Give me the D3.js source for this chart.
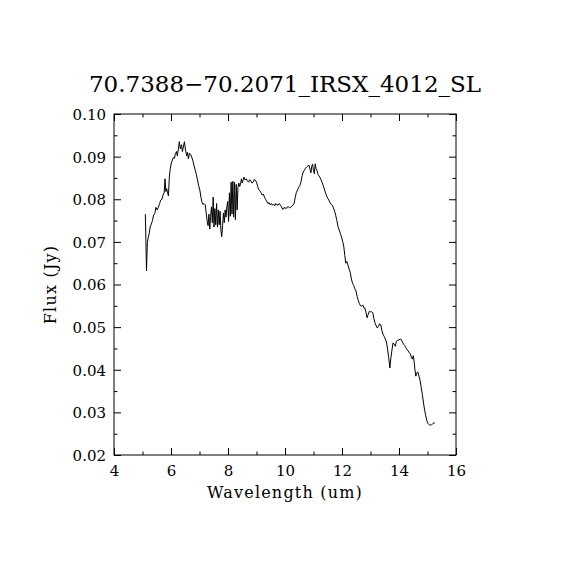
<!DOCTYPE html>
<html>
<head>
<meta charset="utf-8">
<script src="https://cdn.jsdelivr.net/npm/d3@7"></script>
<style>
  html, body { margin: 0; padding: 0; background: #fff; }
  svg { display: block; }
</style>
</head>
<body>
<svg id="chart" width="570" height="570"></svg>
<script>
const title = "70.7388\u221270.2071_IRSX_4012_SL";
const xLabel = "Wavelength (um)";
const yLabel = "Flux (Jy)";

const xMajorTicks = [4, 6, 8, 10, 12, 14, 16];
const xMinorTicks = [5, 7, 9, 11, 13, 15];
const yMajorTicks = [0.02, 0.03, 0.04, 0.05, 0.06, 0.07, 0.08, 0.09, 0.10];
const yMinorTicks = [0.025, 0.035, 0.045, 0.055, 0.065, 0.075, 0.085, 0.095];

// spectrum
const wavelength = [
  5.10, 5.12, 5.14, 5.17, 5.20, 5.23, 5.27, 5.31, 5.35, 5.39, 5.43, 5.47, 5.51, 5.55, 5.60, 5.64, 5.68, 5.72, 5.76, 5.79,
  5.82, 5.85, 5.88, 5.91, 5.94, 5.97, 6.01, 6.05, 6.08, 6.12, 6.15, 6.19, 6.22, 6.26, 6.29, 6.33, 6.37, 6.40, 6.44, 6.47,
  6.51, 6.55, 6.58, 6.61, 6.65, 6.69, 6.73, 6.77, 6.81, 6.85, 6.89, 6.93, 6.97, 7.01, 7.05, 7.09, 7.12, 7.16, 7.20, 7.24,
  7.27, 7.30, 7.33, 7.36, 7.39, 7.42, 7.45, 7.48, 7.51, 7.54, 7.57, 7.60, 7.63, 7.66, 7.69, 7.72, 7.75, 7.78, 7.81, 7.84,
  7.87, 7.90, 7.93, 7.96, 7.99, 8.02, 8.05, 8.08, 8.11, 8.14, 8.17, 8.20, 8.23, 8.26, 8.29, 8.32, 8.35, 8.38, 8.41, 8.44,
  8.47, 8.50, 8.53, 8.56, 8.60, 8.64, 8.68, 8.72, 8.76, 8.80, 8.84, 8.88, 8.92, 8.96, 9.00, 9.04, 9.08, 9.12, 9.16, 9.20,
  9.24, 9.28, 9.32, 9.36, 9.40, 9.44, 9.48, 9.52, 9.56, 9.60, 9.64, 9.68, 9.72, 9.76, 9.80, 9.84, 9.88, 9.92, 9.96, 10.00,
  10.04, 10.08, 10.12, 10.16, 10.20, 10.24, 10.28, 10.32, 10.36, 10.40, 10.44, 10.48, 10.52, 10.56, 10.60, 10.64, 10.68, 10.72, 10.76, 10.80,
  10.84, 10.88, 10.91, 10.94, 10.97, 11.00, 11.03, 11.06, 11.09, 11.12, 11.15, 11.18, 11.22, 11.26, 11.30, 11.34, 11.38, 11.42, 11.46, 11.50,
  11.54, 11.58, 11.62, 11.66, 11.70, 11.74, 11.78, 11.82, 11.86, 11.90, 11.94, 11.98, 12.02, 12.06, 12.10, 12.13, 12.17, 12.21, 12.25, 12.29,
  12.33, 12.37, 12.41, 12.45, 12.49, 12.53, 12.57, 12.61, 12.65, 12.69, 12.73, 12.77, 12.80, 12.84, 12.88, 12.92, 12.96, 13.00, 13.04, 13.08,
  13.12, 13.16, 13.20, 13.24, 13.28, 13.32, 13.36, 13.40, 13.44, 13.48, 13.52, 13.56, 13.60, 13.64, 13.68, 13.71, 13.75, 13.79, 13.83, 13.87,
  13.91, 13.95, 14.00, 14.04, 14.08, 14.12, 14.16, 14.20, 14.24, 14.28, 14.32, 14.36, 14.40, 14.44, 14.47, 14.50, 14.53, 14.56, 14.59, 14.62,
  14.66, 14.70, 14.74, 14.78, 14.82, 14.86, 14.90, 14.94, 14.98, 15.02, 15.06, 15.10, 15.14, 15.18, 15.22, 15.26
];
const flux = [
  0.0765, 0.0700, 0.0632, 0.0698, 0.0710, 0.0718, 0.0735, 0.0742, 0.0750, 0.0763, 0.0766, 0.0781, 0.0775, 0.0780, 0.0790, 0.0798, 0.0800, 0.0810, 0.0815, 0.0848,
  0.0818, 0.0825, 0.0815, 0.0808, 0.0850, 0.0870, 0.0885, 0.0892, 0.0898, 0.0896, 0.0905, 0.0912, 0.0902, 0.0918, 0.0935, 0.0918, 0.0928, 0.0912, 0.0925, 0.0935,
  0.0915, 0.0902, 0.0910, 0.0895, 0.0908, 0.0905, 0.0898, 0.0890, 0.0878, 0.0868, 0.0858, 0.0845, 0.0832, 0.0822, 0.0805, 0.0792, 0.0788, 0.0790, 0.0787, 0.0765,
  0.0748, 0.0738, 0.0765, 0.0730, 0.0760, 0.0782, 0.0745, 0.0805, 0.0735, 0.0778, 0.0740, 0.0790, 0.0735, 0.0775, 0.0740, 0.0772, 0.0728, 0.0712, 0.0738, 0.0768,
  0.0745, 0.0775, 0.0758, 0.0782, 0.0795, 0.0748, 0.0815, 0.0760, 0.0840, 0.0765, 0.0842, 0.0758, 0.0840, 0.0752, 0.0835, 0.0775, 0.0828, 0.0838, 0.0830, 0.0835,
  0.0848, 0.0838, 0.0845, 0.0852, 0.0845, 0.0848, 0.0843, 0.0840, 0.0846, 0.0843, 0.0838, 0.0840, 0.0846, 0.0845, 0.0840, 0.0830, 0.0822, 0.0820, 0.0815, 0.0810,
  0.0812, 0.0805, 0.0800, 0.0795, 0.0790, 0.0792, 0.0787, 0.0790, 0.0786, 0.0789, 0.0785, 0.0790, 0.0787, 0.0786, 0.0790, 0.0786, 0.0782, 0.0776, 0.0780, 0.0780,
  0.0778, 0.0782, 0.0782, 0.0780, 0.0781, 0.0784, 0.0786, 0.0790, 0.0805, 0.0816, 0.0822, 0.0828, 0.0832, 0.0840, 0.0855, 0.0864, 0.0868, 0.0873, 0.0876, 0.0878,
  0.0880, 0.0870, 0.0862, 0.0878, 0.0882, 0.0868, 0.0860, 0.0883, 0.0872, 0.0868, 0.0860, 0.0856, 0.0852, 0.0846, 0.0840, 0.0832, 0.0824, 0.0815, 0.0808, 0.0802,
  0.0798, 0.0792, 0.0788, 0.0786, 0.0780, 0.0772, 0.0762, 0.0750, 0.0736, 0.0728, 0.0720, 0.0712, 0.0702, 0.0690, 0.0668, 0.0650, 0.0654, 0.0645, 0.0636, 0.0628,
  0.0613, 0.0603, 0.0598, 0.0590, 0.0585, 0.0572, 0.0563, 0.0555, 0.0550, 0.0549, 0.0552, 0.0545, 0.0545, 0.0535, 0.0522, 0.0530, 0.0537, 0.0536, 0.0536, 0.0534,
  0.0520, 0.0509, 0.0503, 0.0498, 0.0502, 0.0508, 0.0505, 0.0492, 0.0483, 0.0478, 0.0472, 0.0465, 0.0448, 0.0428, 0.0404, 0.0425, 0.0445, 0.0463, 0.0460, 0.0455,
  0.0467, 0.0469, 0.0470, 0.0472, 0.0471, 0.0465, 0.0460, 0.0457, 0.0452, 0.0447, 0.0445, 0.0440, 0.0437, 0.0428, 0.0425, 0.0433, 0.0420, 0.0400, 0.0385, 0.0392,
  0.0395, 0.0385, 0.0375, 0.0358, 0.0342, 0.0322, 0.0305, 0.0292, 0.0280, 0.0274, 0.0271, 0.0270, 0.0271, 0.0273, 0.0275, 0.0275
];

const margin = { top: 114, right: 114, bottom: 115, left: 114 };
const width = 570, height = 570;
const innerWidth = width - margin.left - margin.right;
const innerHeight = height - margin.top - margin.bottom;
const font_family = '"DejaVu Serif", serif';

const svg = d3.select("#chart");
svg.append("rect").attr("width", width).attr("height", height).attr("fill", "#fff");

const g = svg.append("g")
    .attr("transform", `translate(${margin.left},${margin.top})`);

// Scales
const x = d3.scaleLinear().domain([4, 16]).range([0, innerWidth]);
const y = d3.scaleLinear().domain([0.02, 0.10]).range([innerHeight, 0]);

// Axes: ticks point inward on all four sides, labels only on bottom/left
function addAxis(axis, ticks, size, transform, labels) {
    const a = g.append("g")
        .attr("transform", transform)
        .call(axis.tickValues(ticks).tickSize(-size).tickSizeOuter(0)
            .tickPadding(8)
            .tickFormat(labels || (() => "")));
    a.select(".domain").remove();
    a.selectAll("line").attr("stroke", "#000").attr("stroke-width", 1);
    if (!labels) {
        a.selectAll("text").remove();
    } else {
        a.selectAll("text")
            .attr("fill", "#000")
            .attr("font-family", font_family)
            .attr("font-size", 15);
    }
    return a;
}

const bottom = addAxis(d3.axisBottom(x), xMajorTicks, 7, `translate(0,${innerHeight})`, d3.format("d"));
bottom.selectAll("text").attr("y", 10);
addAxis(d3.axisBottom(x), xMinorTicks, 3.5, `translate(0,${innerHeight})`, null);
addAxis(d3.axisTop(x), xMajorTicks, 7, "translate(0,0)", null);
addAxis(d3.axisTop(x), xMinorTicks, 3.5, "translate(0,0)", null);

const left = addAxis(d3.axisLeft(y), yMajorTicks, 7, "translate(0,0)", d3.format(".2f"));
left.selectAll("text").attr("x", -8).attr("dy", "0.36em");
addAxis(d3.axisLeft(y), yMinorTicks, 3.5, "translate(0,0)", null);
addAxis(d3.axisRight(y), yMajorTicks, 7, `translate(${innerWidth},0)`, null);
addAxis(d3.axisRight(y), yMinorTicks, 3.5, `translate(${innerWidth},0)`, null);

// Frame
g.append("rect")
    .attr("width", innerWidth)
    .attr("height", innerHeight)
    .attr("fill", "none")
    .attr("stroke", "#000")
    .attr("stroke-width", 1);

// Spectrum
const spec = wavelength.map((w, i) => [w, flux[i]]);
g.append("path")
    .datum(spec)
    .attr("fill", "none")
    .attr("stroke", "#000")
    .attr("stroke-width", 1)
    .attr("stroke-linejoin", "miter")
    .attr("d", d3.line().x(d => x(d[0])).y(d => y(d[1])));

// Title
svg.append("text")
    .attr("x", width / 2)
    .attr("y", 92)
    .attr("text-anchor", "middle")
    .attr("font-family", font_family)
    .attr("font-size", 23)
    .attr("fill", "#000")
    .text(title);

// X Axis Label
svg.append("text")
    .attr("x", margin.left + innerWidth / 2)
    .attr("y", 498)
    .attr("text-anchor", "middle")
    .attr("font-family", font_family)
    .attr("font-size", 16)
    .attr("letter-spacing", 1.2)
    .attr("fill", "#000")
    .text(xLabel);

// Y Axis Label
svg.append("text")
    .attr("transform", "rotate(-90)")
    .attr("x", -(margin.top + innerHeight / 2))
    .attr("y", 56)
    .attr("text-anchor", "middle")
    .attr("font-family", font_family)
    .attr("font-size", 16)
    .attr("letter-spacing", 1.2)
    .attr("fill", "#000")
    .text(yLabel);
</script>
</body>
</html>
